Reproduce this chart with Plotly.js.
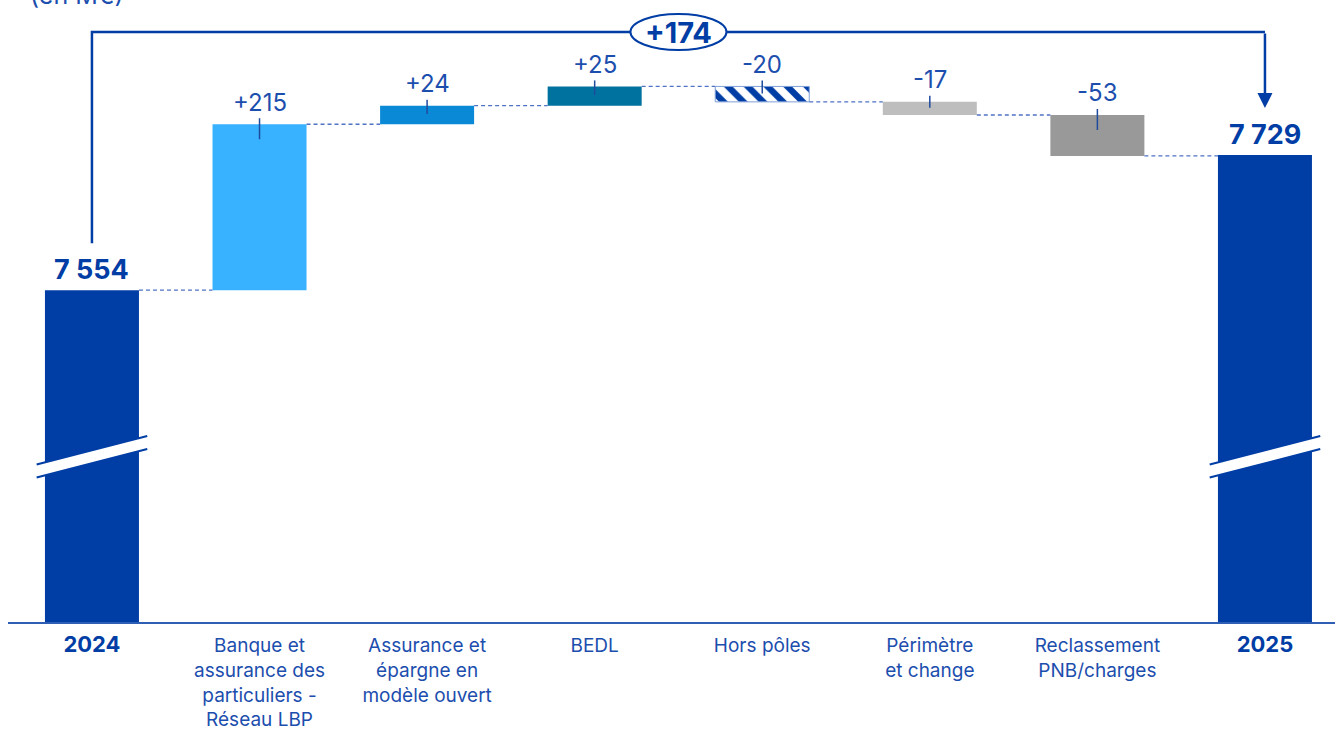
<!DOCTYPE html>
<html>
<head>
<meta charset="utf-8">
<script src="https://cdn.plot.ly/plotly-3.0.1.min.js"></script>
<style>
html,body{margin:0;padding:0;background:#fff;}
#chart{width:1335px;height:733px;}
</style>
</head>
<body>
<div id="chart"></div>
<script>
// ---- data ----
const categories = [
  "2024",
  "Banque et<br>assurance des<br>particuliers -<br>Réseau LBP",
  "Assurance et<br>épargne en<br>modèle ouvert",
  "BEDL",
  "Hors pôles",
  "Périmètre<br>et change",
  "Reclassement<br>PNB/charges",
  "2025"
];
const startTotal = 7554;
const endTotal = 7729;
const deltas = [215, 24, 25, -20, -17, -53];
const deltaLabels = ["+215", "+24", "+25", "-20", "-17", "-53"];
const totalLabels = ["7 554", "7 729"];
const variationLabel = "+174";
const unitLabel = "(en M€)";

// ---- styles ----
const DARK = "#003da5";
const TEXT = "#1c4eae";
const barColors = ["#003da5", "#38b2ff", "#0a89d6", "#00729f", "#ffffff", "#bebebe", "#999999", "#003da5"];
const hatched = [false, false, false, false, true, false, false, false];
const FONT = "Inter, 'Open Sans', sans-serif";

const W = 1335, H = 733;
const margin = {l: 8, r: 0, t: 0, b: 111, pad: 0};
const yMin = 7124, yMax = 7930;
const plotH = H - margin.t - margin.b;
const pxU = plotH / (yMax - yMin);     // pixels per unit
const u = px => px / pxU;              // pixel offset -> data units
const xRange = [-0.501, 7.418];
const pxX = (W - margin.l - margin.r) / (xRange[1] - xRange[0]);
const barW = 0.561;

// ---- build bars ----
const xs = [], ys = [], bases = [];
xs.push(0); bases.push(0); ys.push(startTotal);
let cum = startTotal;
const levels = [startTotal];
deltas.forEach((d, i) => {
  xs.push(i + 1); bases.push(cum); ys.push(d);
  cum += d; levels.push(cum);
});
xs.push(7); bases.push(0); ys.push(endTotal);

const solidIdx = xs.map((_, i) => i).filter(i => !hatched[i]);
const hatchIdx = xs.map((_, i) => i).filter(i => hatched[i]);

const solidBars = {
  type: "bar", x: solidIdx.map(i => xs[i]), y: solidIdx.map(i => ys[i]), base: solidIdx.map(i => bases[i]),
  width: barW, marker: {color: solidIdx.map(i => barColors[i]), line: {width: 0}},
  hoverinfo: "skip", showlegend: false
};
const hatchBars = {
  type: "bar", x: hatchIdx.map(i => xs[i]), y: hatchIdx.map(i => ys[i]), base: hatchIdx.map(i => bases[i]),
  width: barW,
  marker: {
    color: "#ffffff",
    line: {color: "#7f9fd8", width: 1},
    pattern: {shape: "\\", fgcolor: DARK, fgopacity: 1, bgcolor: "#ffffff", size: 14, solidity: 0.45, fillmode: "overlay"}
  },
  hoverinfo: "skip", showlegend: false
};

const shapes = [], annotations = [];
const half = barW / 2;

// connectors
for (let i = 0; i < 7; i++) {
  const lvl = levels[i];
  shapes.push({type: "line", xref: "x", yref: "y", x0: i + half, x1: i + 1 - half, y0: lvl, y1: lvl,
    line: {color: "#4f73c4", width: 1.3, dash: "4px,3px"}});
}

// delta labels + small ticks
deltas.forEach((d, i) => {
  const x = i + 1;
  const top = Math.max(bases[x], bases[x] + d);
  const h = Math.abs(d) * pxU;
  annotations.push({x: x, y: top, xref: "x", yref: "y", text: deltaLabels[i], showarrow: false,
    yanchor: "middle", yshift: 22, font: {family: FONT, size: 24, color: TEXT}});
  shapes.push({type: "line", xref: "x", yref: "y", x0: x, x1: x, y0: top + u(6), y1: top - u(Math.min(15, 0.45 * h)),
    line: {color: "#1f4b9e", width: 1.5}});
});

// totals
[[0, startTotal, totalLabels[0]], [7, endTotal, totalLabels[1]]].forEach(([x, v, t]) => {
  annotations.push({x: x, y: v, xref: "x", yref: "y", text: "<b>" + t + "</b>", showarrow: false,
    yanchor: "middle", yshift: 21, font: {family: FONT, size: 27, color: DARK}});
});

// axis break marks
[0, 7].forEach(x => {
  const xl = x - 0.33, xr = x + 0.33;
  const yl = 7328, yr = 7365, gap = u(13);
  shapes.push({type: "path", xref: "x", yref: "y", layer: "above",
    path: `M ${xl},${yl} L ${xr},${yr} L ${xr},${yr - gap} L ${xl},${yl - gap} Z`,
    fillcolor: "#ffffff", line: {width: 0}});
  shapes.push({type: "line", xref: "x", yref: "y", x0: xl, x1: xr, y0: yl, y1: yr, line: {color: DARK, width: 2}});
  shapes.push({type: "line", xref: "x", yref: "y", x0: xl, x1: xr, y0: yl - gap, y1: yr - gap, line: {color: DARK, width: 2}});
});

// variation bracket
const yTopBracket = yMax - u(32);
shapes.push({type: "path", xref: "x", yref: "y",
  path: `M 0,${startTotal + u(47)} L 0,${yTopBracket} L 7,${yTopBracket}`,
  line: {color: DARK, width: 2.5}});
annotations.push({x: 7, y: endTotal + u(47), xref: "x", yref: "y", ax: 7, ay: yTopBracket, axref: "x", ayref: "y",
  text: "", showarrow: true, arrowhead: 2, arrowsize: 1.2, arrowwidth: 2.5, arrowcolor: DARK, standoff: 0});
shapes.push({type: "circle", xref: "x", yref: "y", x0: 3.5 - 48 / pxX, x1: 3.5 + 48 / pxX,
  y0: yTopBracket - u(18), y1: yTopBracket + u(18), fillcolor: "#ffffff", line: {color: DARK, width: 2}});
annotations.push({x: 3.5, y: yTopBracket, xref: "x", yref: "y", text: "<b>" + variationLabel + "</b>", showarrow: false,
  font: {family: FONT, size: 29, color: DARK}});

// unit label (cut at top, as in the source)
annotations.push({x: 0, y: 1, xref: "paper", yref: "paper", xanchor: "left", yanchor: "bottom", xshift: 20, yshift: -12,
  text: unitLabel, showarrow: false, font: {family: FONT, size: 25, color: TEXT}});

const tickText = categories.map((c, i) => (i === 0 || i === 7)
  ? `<span style="font-size:22px;color:${DARK}"><b>${c}</b></span>` : c);

const layout = {
  width: W, height: H, margin: margin,
  paper_bgcolor: "#ffffff", plot_bgcolor: "#ffffff",
  showlegend: false, barmode: "overlay",
  xaxis: {
    range: xRange, tickvals: [0,1,2,3,4,5,6,7], ticktext: tickText,
    showgrid: false, zeroline: false, showline: true, linecolor: "#2f5fb5", linewidth: 1.5,
    ticks: "", ticklabelstandoff: 6, tickfont: {family: FONT, size: 19, color: TEXT}, fixedrange: true
  },
  yaxis: {range: [yMin, yMax], visible: false, showgrid: false, zeroline: false, fixedrange: true},
  shapes: shapes, annotations: annotations
};

Plotly.newPlot("chart", [solidBars, hatchBars], layout, {staticPlot: true, displayModeBar: false});
</script>
</body>
</html>
